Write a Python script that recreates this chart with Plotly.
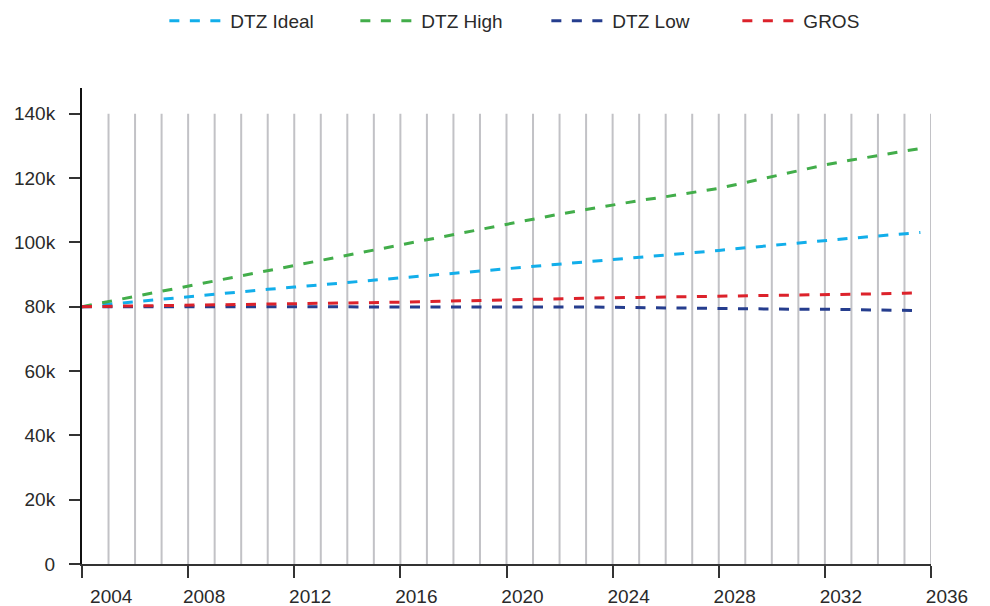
import plotly.graph_objects as go

years = list(range(2004, 2036)) + [2035.6]

dtz_ideal = [80.0, 80.8, 81.6, 82.3, 83.1, 83.9, 84.6, 85.4, 86.1, 86.8, 87.5, 88.3, 89.0,
             89.7, 90.4, 91.1, 91.8, 92.5, 93.3, 94.0, 94.7, 95.4, 96.1, 96.8, 97.5, 98.3,
             99.1, 99.8, 100.6, 101.3, 102.0, 102.7, 103.1]
dtz_high = [80.0, 81.6, 83.2, 84.9, 86.5, 88.1, 89.8, 91.4, 93.0, 94.6, 96.2, 97.7, 99.3,
            100.9, 102.5, 104.2, 105.8, 107.3, 108.8, 110.2, 111.7, 113.0, 114.2, 115.4,
            116.8, 118.6, 120.5, 122.3, 124.1, 125.6, 127.0, 128.4, 129.2]
dtz_low = [80.0, 80.0, 80.0, 80.0, 80.0, 80.0, 80.0, 80.0, 80.0, 80.1, 80.1, 80.1, 80.1,
           80.1, 80.1, 80.1, 80.1, 80.0, 80.0, 79.9, 79.8, 79.7, 79.6, 79.4, 79.3, 79.3,
           79.3, 79.2, 79.2, 79.1, 79.0, 78.9, 78.8]
gros = [80.0, 80.1, 80.2, 80.3, 80.4, 80.5, 80.7, 80.8, 80.9, 81.0, 81.1, 81.3, 81.4,
        81.6, 81.8, 81.9, 82.1, 82.3, 82.5, 82.6, 82.8, 82.9, 83.0, 83.2, 83.3, 83.4,
        83.5, 83.7, 83.8, 83.9, 84.0, 84.2, 84.3]

series_names = ["DTZ Ideal", "DTZ High", "DTZ Low", "GROS"]
series_values = [dtz_ideal, dtz_high, dtz_low, gros]
series_colors = ["#12aeea", "#42ad4a", "#253d8e", "#dc222b"]

x_tick_vals = list(range(2004, 2037, 4))
x_tick_text = ["\u00a0" * 5 + "2004"] + [str(v) for v in x_tick_vals[1:]]
y_tick_vals = [0, 20000, 40000, 60000, 80000, 100000, 120000, 140000]
y_tick_text = ["0", "20k", "40k", "60k", "80k", "100k", "120k", "140k"]
grid_years = list(range(2005, 2037))

FONT = "Liberation Sans, Arial, sans-serif"

fig = go.Figure()
for name, vals, col in zip(series_names, series_values, series_colors):
    fig.add_trace(go.Scatter(
        x=years, y=[v * 1000 for v in vals], name=name, mode="lines",
        line=dict(color=col, width=3, dash="10px,10.5px"),
        hoverinfo="skip",
    ))

for gy in grid_years:
    fig.add_shape(type="line", xref="x", yref="y", x0=gy, x1=gy, y0=0, y1=140000,
                  line=dict(color="#c2c2c6", width=2), layer="below")

fig.update_layout(
    width=982, height=598,
    margin=dict(l=74, r=59, t=80, b=42, autoexpand=False),
    paper_bgcolor="white", plot_bgcolor="white",
    font=dict(family=FONT, size=19, color="#2a2a2a"),
    showlegend=True,
    legend=dict(orientation="h", x=0.097, xanchor="left", y=1.141, yanchor="middle",
                font=dict(family=FONT, size=19, color="#2a2a2a"),
                itemwidth=56, entrywidth=120, bgcolor="rgba(0,0,0,0)"),
    xaxis=dict(range=[2004, 2036], showgrid=False, zeroline=False, automargin=False,
               tickvals=x_tick_vals, ticktext=x_tick_text,
               ticks="outside", ticklen=12, tickwidth=2, tickcolor="#333",
               showline=True, linecolor="#333", linewidth=2,
               ticklabelshift=16, ticklabelstandoff=2,
               tickfont=dict(family=FONT, size=19, color="#2a2a2a")),
    yaxis=dict(range=[0, 148000], showgrid=False, zeroline=False, automargin=False,
               tickvals=y_tick_vals, ticktext=y_tick_text,
               ticks="outside", ticklen=11, tickwidth=2, tickcolor="#333",
               showline=True, linecolor="#111", linewidth=2,
               ticklabelstandoff=10,
               tickfont=dict(family=FONT, size=19, color="#2a2a2a")),
)

fig.write_html("out.html")
